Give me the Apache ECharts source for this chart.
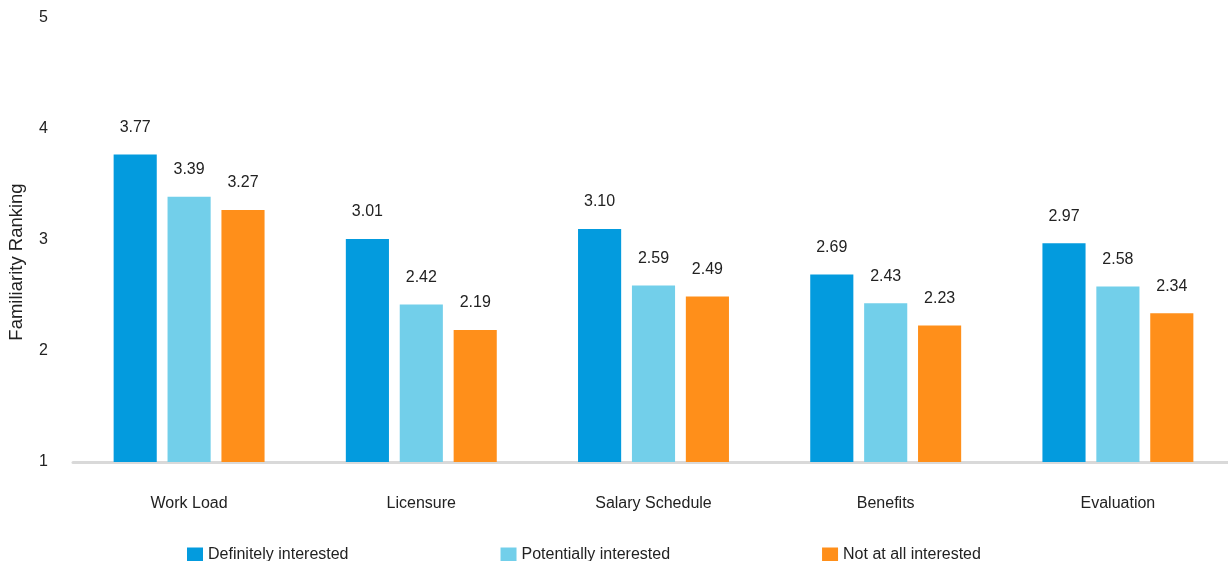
<!DOCTYPE html>
<html>
<head>
<meta charset="utf-8">
<script src="https://cdn.jsdelivr.net/npm/echarts@6/dist/echarts.min.js"></script>
<style>html,body{margin:0;padding:0;background:#fff;overflow:hidden;}#c{width:1234px;height:561px;}</style>
</head>
<body>
<div id="c"></div>
<script>
const categories = ['Work Load', 'Licensure', 'Salary Schedule', 'Benefits', 'Evaluation'];
const seriesNames = ['Definitely interested', 'Potentially interested', 'Not at all interested'];
const definitelyInterested = [3.77, 3.01, 3.10, 2.69, 2.97];
const potentiallyInterested = [3.39, 2.42, 2.59, 2.43, 2.58];
const notAtAllInterested = [3.27, 2.19, 2.49, 2.23, 2.34];
const colors = ['#039BDE', '#72CFEA', '#FF8F1A'];
const yAxisTitle = 'Familiarity Ranking';

const font = 'Arial, "Liberation Sans", sans-serif';
const seriesData = [definitelyInterested, potentiallyInterested, notAtAllInterested];

const chart = echarts.init(document.getElementById('c'));
chart.setOption({
  animation: false,
  textStyle: { fontFamily: font },
  grid: { left: 73, right: 0, top: 18, bottom: 99 },
  legend: {
    bottom: -7,
    left: 182,
    itemWidth: 16,
    itemHeight: 15,
    itemGap: 152,
    icon: 'rect',
    textStyle: { fontSize: 16, color: '#222', fontFamily: font },
    data: seriesNames
  },
  graphic: [{
    type: 'text',
    x: 17, y: 262,
    rotation: Math.PI / 2,
    style: { text: yAxisTitle, fontSize: 18.5, fill: '#222', fontFamily: font, align: 'center', verticalAlign: 'middle' }
  }],
  xAxis: {
    type: 'category',
    data: categories,
    axisLine: { lineStyle: { color: '#D9D9D9', width: 3 } },
    axisTick: { show: false },
    axisLabel: { margin: 34, fontSize: 16, color: '#222', fontFamily: font }
  },
  yAxis: {
    type: 'value',
    min: 1, max: 5, interval: 1,
    axisLine: { show: false },
    axisTick: { show: false },
    splitLine: { show: false },
    axisLabel: { margin: 25, fontSize: 16, color: '#222', fontFamily: font, padding: [3, 0, 0, 0] }
  },
  series: seriesData.map((d, i) => ({
    name: seriesNames[i],
    type: 'bar',
    data: d,
    barGap: '25%',
    barCategoryGap: '35%',
    itemStyle: { color: colors[i] },
    label: {
      show: true,
      position: 'top',
      distance: 19,
      fontSize: 16,
      color: '#222',
      fontFamily: font,
      formatter: p => p.value.toFixed(2)
    }
  }))
});
</script>
</body>
</html>
